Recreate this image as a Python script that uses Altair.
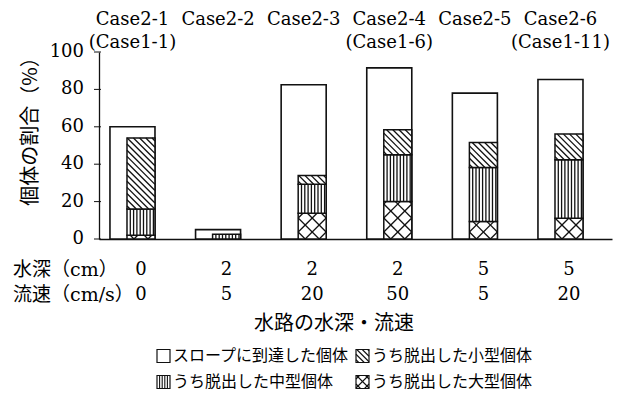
import altair as alt
import numpy as np
import pandas as pd

# ---------------- data ----------------
cases = ["Case2-1", "Case2-2", "Case2-3", "Case2-4", "Case2-5", "Case2-6"]
case1_refs = ["(Case1-1)", "", "", "(Case1-6)", "", "(Case1-11)"]
depth_labels = ["0", "2", "2", "2", "5", "5"]
speed_labels = ["0", "5", "20", "50", "5", "20"]
reached = [60.0, 5.0, 82.5, 91.5, 78.0, 85.3]   # スロープに到達した個体
large = [2.0, 0.0, 13.8, 20.0, 9.3, 11.1]        # うち脱出した大型個体
medium = [14.0, 2.5, 15.5, 25.0, 28.9, 31.3]     # うち脱出した中型個体
small = [38.0, 0.0, 4.6, 13.4, 13.4, 13.7]       # うち脱出した小型個体
y_ticks = [0, 20, 40, 60, 80, 100]

row_headers = ["水深（cm）", "流速（cm/s）"]
x_title = "水路の水深・流速"
y_title = "個体の割合（%）"
legend_labels = ["スロープに到達した個体", "うち脱出した小型個体",
                 "うち脱出した中型個体", "うち脱出した大型個体"]

# ---------------- layout / style ----------------
W, H = 513, 187
PAD = {"left": 99, "top": 52, "right": 6, "bottom": 169}
X_MIN, X_MAX = -0.391, 5.602
XPX = W / (X_MAX - X_MIN)
YPX = H / 100.0
OUT_L, OUT_R = -0.263, 0.263
IN_L, IN_R = -0.064, 0.263
SERIF = "DejaVu Serif, Liberation Serif, Noto Serif, serif"
JP = "Noto Sans CJK JP, Noto Sans, sans-serif"
HDR = "DejaVu Serif, Noto Sans CJK JP, serif"
INK = "#111111"

xscale = alt.Scale(domain=[X_MIN, X_MAX], nice=False, zero=False)
yscale = alt.Scale(domain=[0, 100], nice=False)


def px2x(px):
    """pixel (from plot left) -> x data units"""
    return X_MIN + px / XPX


def py2y(py):
    """pixel (from plot top, downwards) -> y data units"""
    return 100.0 - py / YPX


def hatch(x0, x1, y0, y1, step, kind):
    """Line segments (y up) filling the rectangle with a pattern."""
    out = []
    if kind == "back":          # "\" lines : x + y = c
        c = x0 + y0 + step * 0.5
        while c < x1 + y1:
            lo, hi = max(x0, c - y1), min(x1, c - y0)
            if hi - lo > 0.4:
                out.append((lo, c - lo, hi, c - hi))
            c += step
    elif kind == "fwd":         # "/" lines : y - x = c
        c = y0 - x1 + step * 0.5
        while c < y1 - x0:
            lo, hi = max(x0, y0 - c), min(x1, y1 - c)
            if hi - lo > 0.4:
                out.append((lo, lo + c, hi, hi + c))
            c += step
    elif kind == "vertical":
        x = x0 + step
        while x < x1 - 0.8:
            out.append((x, y0, x, y1))
            x += step
    return out


PATTERNS = {
    "small": [("back", 6.2)],
    "medium": [("vertical", 3.3)],
    "large": [("back", 14.0), ("fwd", 14.0)],
}

# ---------------- tables built from the arrays ----------------
bars = pd.DataFrame({"idx": range(len(cases)), "case": cases, "ref": case1_refs,
                     "depth": depth_labels, "speed": speed_labels,
                     "reached": reached})
ticks = pd.DataFrame({"v": y_ticks})

seg_rows, line_rows = [], []
for i in range(len(cases)):
    lo = 0.0
    for name, val in (("large", large[i]), ("medium", medium[i]), ("small", small[i])):
        hi = lo + val
        if val > 0:
            seg_rows.append({"idx": i, "seg": name, "lo": lo, "hi": hi})
            for kind, step in PATTERNS[name]:
                for (ax, ay, bx, by) in hatch(IN_L * XPX, IN_R * XPX, lo * YPX, hi * YPX, step, kind):
                    line_rows.append({"x": i + ax / XPX, "y": ay / YPX,
                                      "x2": i + bx / XPX, "y2": by / YPX})
        lo = hi
segs = pd.DataFrame(seg_rows)
lines = pd.DataFrame(line_rows)

# legend, placed below the plot (pixel layout converted to data units)
LEG_X = [58, 257]
LEG_Y = [304, 330]
SW = 13
leg_keys = ["reached", "small", "medium", "large"]
LEG_STEP = {"small": 5.5, "medium": 2.6, "large": 9.0}
leg_rows, leg_lines = [], []
for k, (lab, key) in enumerate(zip(legend_labels, leg_keys)):
    sx, sy = LEG_X[k % 2], LEG_Y[k // 2]
    top = sy - SW / 2
    leg_rows.append({"label": lab, "sx": px2x(sx), "sx2": px2x(sx + SW),
                     "top": py2y(top), "bot": py2y(top + SW),
                     "tx": px2x(sx + SW + 3), "ty": py2y(sy)})
    for kind, _ in PATTERNS.get(key, []):
        for (ax, ay, bx, by) in hatch(0, SW, 0, SW, LEG_STEP[key], kind):
            leg_lines.append({"x": px2x(sx + ax), "y": py2y(top + SW - ay),
                              "x2": px2x(sx + bx), "y2": py2y(top + SW - by)})
leg = pd.DataFrame(leg_rows)
legl = pd.DataFrame(leg_lines)

hdr = pd.DataFrame({"t": row_headers, "hx": [px2x(-86)] * 2,
                    "hy": [py2y(218), py2y(243)]})

# ---------------- chart ----------------
outer = alt.Chart(bars).transform_calculate(
    xa=f"datum.idx + ({OUT_L})", xb=f"datum.idx + ({OUT_R})"
).mark_rect(fill="white", stroke=INK, strokeWidth=1.6).encode(
    x=alt.X("xa:Q", scale=xscale,
            axis=alt.Axis(labels=False, ticks=False, grid=False, title=None)),
    x2="xb:Q",
    y=alt.Y("reached:Q", scale=yscale,
            axis=alt.Axis(labels=False, ticks=False, grid=False, title=y_title)),
    y2=alt.datum(0),
)

inner = alt.Chart(segs).transform_calculate(
    xa=f"datum.idx + ({IN_L})", xb=f"datum.idx + ({IN_R})"
).mark_rect(fill="white", stroke=INK, strokeWidth=1.5).encode(
    x=alt.X("xa:Q", scale=xscale), x2="xb:Q",
    y=alt.Y("lo:Q", scale=yscale), y2="hi:Q",
)

hatch_layer = alt.Chart(lines).mark_rule(color=INK, strokeWidth=1.3).encode(
    x=alt.X("x:Q", scale=xscale), x2="x2:Q",
    y=alt.Y("y:Q", scale=yscale), y2="y2:Q",
)

ytick_marks = alt.Chart(ticks).mark_rule(color=INK, strokeWidth=1).encode(
    x=alt.value(-5), x2=alt.value(2), y=alt.Y("v:Q", scale=yscale))

ytick_text = alt.Chart(ticks).mark_text(font=SERIF, fontSize=18, color="black",
                                        align="right", baseline="middle").encode(
    x=alt.value(-15), y=alt.Y("v:Q", scale=yscale), text=alt.Text("v:Q", format="d"))

case_text = alt.Chart(bars).mark_text(font=SERIF, fontSize=18, color="black",
                                      baseline="middle").encode(
    x=alt.X("idx:Q", scale=xscale), y=alt.value(-32), text="case:N")

ref_text = alt.Chart(bars).transform_filter("datum.ref != ''").mark_text(
    font=SERIF, fontSize=18, color="black", baseline="middle").encode(
    x=alt.X("idx:Q", scale=xscale), y=alt.value(-9), text="ref:N")

depth_text = alt.Chart(bars).transform_calculate(
    xv=f"datum.idx + ({(IN_L + IN_R) / 2})"
).mark_text(font=SERIF, fontSize=18, color="black", baseline="middle").encode(
    x=alt.X("xv:Q", scale=xscale), y=alt.value(218), text="depth:N")

speed_text = alt.Chart(bars).transform_calculate(
    xv=f"datum.idx + ({(IN_L + IN_R) / 2})"
).mark_text(font=SERIF, fontSize=18, color="black", baseline="middle").encode(
    x=alt.X("xv:Q", scale=xscale), y=alt.value(243), text="speed:N")

hdr_text = alt.Chart(hdr).mark_text(font=HDR, fontSize=19, color="black",
                                    align="left", baseline="middle").encode(
    x=alt.X("hx:Q", scale=xscale), y=alt.Y("hy:Q", scale=yscale), text="t:N")

xt = pd.DataFrame({"t": [x_title]})
xtitle_text = alt.Chart(xt).mark_text(font=JP, fontSize=20, color="black",
                                      baseline="middle").encode(
    x=alt.value(235), y=alt.value(272), text="t:N")

leg_box = alt.Chart(leg).mark_rect(fill="white", stroke=INK, strokeWidth=1.2).encode(
    x=alt.X("sx:Q", scale=xscale), x2="sx2:Q",
    y=alt.Y("top:Q", scale=yscale), y2="bot:Q")
leg_hatch = alt.Chart(legl).mark_rule(color=INK, strokeWidth=1.1).encode(
    x=alt.X("x:Q", scale=xscale), x2="x2:Q",
    y=alt.Y("y:Q", scale=yscale), y2="y2:Q")
leg_text = alt.Chart(leg).mark_text(font=JP, fontSize=16, color="black",
                                    align="left", baseline="middle").encode(
    x=alt.X("tx:Q", scale=xscale), y=alt.Y("ty:Q", scale=yscale), text="label:N")

chart = alt.layer(
    outer, inner, hatch_layer, ytick_marks, ytick_text, case_text, ref_text,
    depth_text, speed_text, hdr_text, xtitle_text, leg_box, leg_hatch, leg_text
).properties(
    width=W, height=H, padding=PAD,
    autosize=alt.AutoSizeParams(type="none"),
    background="white",
).configure_view(stroke=None).configure_axisX(
    domainColor=INK, domainWidth=1.3, labels=False, ticks=False, grid=False,
).configure_axisY(
    labels=False, ticks=False,
    domainColor=INK, domainWidth=1.3, grid=False,
    titleFont=JP, titleFontSize=20, titleFontWeight="normal",
    titleColor="black", titleAngle=270, titleBaseline="middle",
    titleAlign="center", titleX=-69, titleY=74,
)

chart.save("out.html", embed_options={"renderer": "svg", "actions": False})
